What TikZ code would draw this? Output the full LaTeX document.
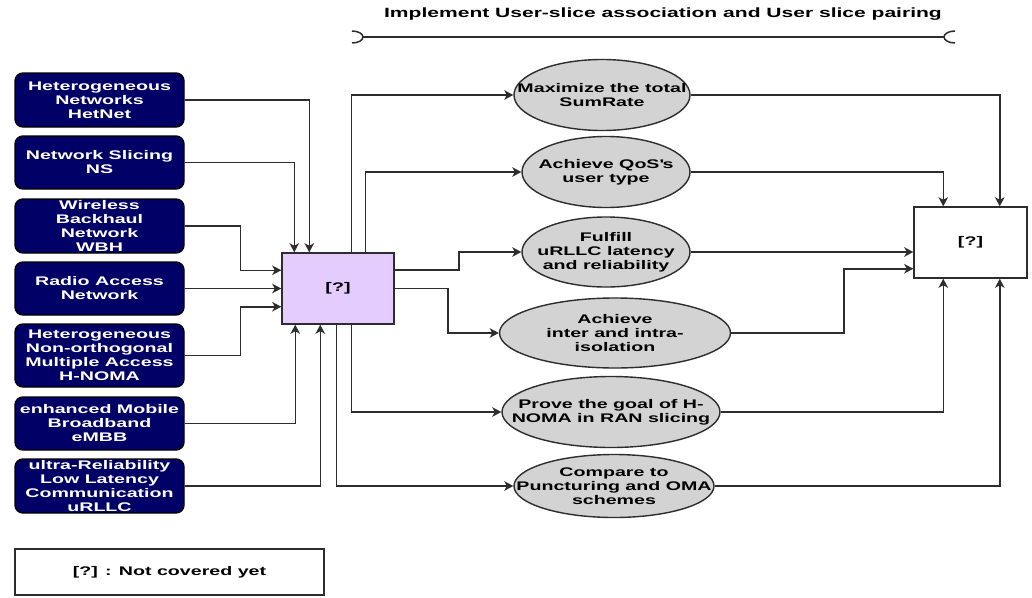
\documentclass[tikz,border=0pt]{standalone}
\usepackage{fontspec}
\setmainfont{Liberation Sans}[FakeStretch=1.57]
\usetikzlibrary{shapes.geometric,arrows.meta,calc}
\definecolor{navyfill}{RGB}{0,0,102}
\definecolor{lavender}{RGB}{229,204,255}
\definecolor{goalgray}{RGB}{211,211,211}
\definecolor{linegray}{RGB}{45,45,45}
\begin{document}
\begin{tikzpicture}[x=1pt,y=-1pt,
  txt/.style={font=\fontsize{12.5}{14}\selectfont\bfseries,align=center},
  src/.style={txt,draw=black,line width=1.4pt,fill=navyfill,text=white,rounded corners=8pt,minimum width=169pt,inner sep=0pt},
  hub/.style={txt,draw=linegray,line width=1.5pt,inner sep=0pt},
  goal/.style={ellipse,draw=linegray,line width=1.4pt,fill=goalgray,inner sep=0pt},
  conn/.style={draw=linegray,line width=1.5pt,-{Stealth[length=9pt,width=9.5pt,inset=2.5pt]}},
  bar/.style={draw=linegray,line width=1.5pt},
]
\useasboundingbox (0,0) rectangle (1032,597);
% title
\node[txt,font=\fontsize{13.4}{15}\selectfont\bfseries] (title) at (663,14) {Implement User-slice association and User slice pairing};
\coordinate (bl) at (352,31);
\coordinate (br) at (955,31);
\coordinate (ll) at (363,37);
\coordinate (lr) at (944,37);
\draw[bar] (bl) arc[start angle=90,end angle=-90,x radius=11pt,y radius=6pt];
\draw[bar] (br) arc[start angle=90,end angle=270,x radius=11pt,y radius=6pt];
\draw[bar] (ll) -- (lr);
% sources
\node[src,minimum height=54pt] (hn) at (99.5,100) {Heterogeneous\\Networks\\HetNet};
\node[src,minimum height=53pt] (ns) at (99.5,162.5) {Network Slicing\\NS};
\node[src,minimum height=54pt] (wbh) at (99.5,226) {Wireless\\Backhaul\\Network\\WBH};
\node[src,minimum height=53pt] (ran) at (99.5,288.5) {Radio Access\\Network};
\node[src,minimum height=63pt] (hnoma) at (99.5,355.5) {Heterogeneous\\Non-orthogonal\\Multiple Access\\H-NOMA};
\node[src,minimum height=53pt] (embb) at (99.5,423.5) {enhanced Mobile\\Broadband\\eMBB};
\node[src,minimum height=54pt] (urllc) at (99.5,486) {ultra-Reliability\\Low Latency\\Communication\\uRLLC};
% legend
\node[hub,minimum width=309pt,minimum height=46pt] (legend) at (169.5,572) {[?] : Not covered yet};
% central hub
\node[hub,fill=lavender,minimum width=112pt,minimum height=71pt] (c) at (338,288.5) {[?]};
% result box
\node[hub,fill=white,minimum width=113pt,minimum height=71pt] (r) at (970.5,242.5) {[?]};
% goals
\node[goal,minimum width=176pt,minimum height=71pt] (e1) at (602,95) {};
\node[goal,minimum width=168pt,minimum height=71pt] (e2) at (606,172) {};
\node[goal,minimum width=168pt,minimum height=70pt] (e3) at (606,252) {};
\node[goal,minimum width=231pt,minimum height=70pt] (e4) at (615,333) {};
\node[goal,minimum width=218pt,minimum height=71pt] (e5) at (611,412) {};
\node[goal,minimum width=200pt,minimum height=63pt] (e6) at (614,486) {};
\node[txt] (t1) at (e1) {Maximize the total\\SumRate};
\node[txt] (t2) at (e2) {Achieve QoS\textquotesingle s\\user type};
\node[txt] (t3) at (e3) {Fulfill\\uRLLC latency\\and reliability};
\node[txt] (t4) at (e4) {Achieve\\inter and intra-\\isolation};
\node[txt] (t5) at (e5) {Prove the goal of H-\\NOMA in RAN slicing};
\node[txt] (t6) at (e6) {Compare to\\Puncturing and OMA\\schemes};
% inputs to hub
\draw[conn] (hn.east) -| ($(c.north west)+(28,0)$);
\draw[conn] (ns.east) -| ($(c.north west)+(13,0)$);
\draw[conn] (wbh.east) -- ++(56,0) |- ($(c.north west)+(0,18)$);
\draw[conn] (ran.east) -- (ran.east -| c.west);
\draw[conn] (hnoma.east) -- ++(56,0) |- ($(c.south west)+(0,-18)$);
\draw[conn] (embb.east) -| ($(c.south west)+(14,0)$);
\draw[conn] (urllc.east) -| ($(c.south west)+(39,0)$);
% hub to goals
\draw[conn] ($(c.north west)+(70,0)$) |- (e1.west);
\draw[conn] ($(c.north west)+(84,0)$) |- (e2.west);
\draw[conn] ($(c.east)+(0,-18.5)$) -- ++(64,0) |- (e3.west);
\draw[conn] (c.east) -- ++(53,0) |- (e4.west);
\draw[conn] ($(c.south west)+(70,0)$) |- (e5.west);
\draw[conn] ($(c.south west)+(55,0)$) |- (e6.west);
% goals to result
\draw[conn] (e1.east) -| ($(r.north east)+(-28,0)$);
\draw[conn] (e2.east) -| ($(r.north west)+(30,0)$);
\draw[conn] (e3.east) -- (e3.east -| r.west);
\draw[conn] (e4.east) -- ++(113,0) |- ($(r.south west)+(0,-10)$);
\draw[conn] (e5.east) -| ($(r.south west)+(30,0)$);
\draw[conn] (e6.east) -| ($(r.south east)+(-28,0)$);
\end{tikzpicture}
\end{document}
